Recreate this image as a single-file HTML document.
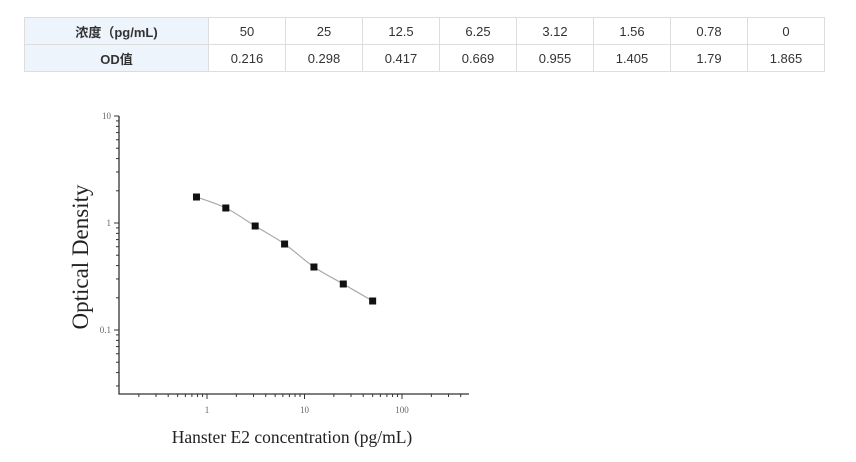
<!DOCTYPE html>
<html><head><meta charset="utf-8"><style>
body{margin:0;width:856px;height:462px;background:#fff;overflow:hidden;position:relative}
table{position:absolute;left:24px;top:17px;border-collapse:collapse;font-family:"Liberation Sans","Noto Sans CJK SC",sans-serif;font-size:13px;color:#333}
td{border:1px solid #ddd;height:26px;padding:0;text-align:center;width:76px}
td.h{width:183px;background:#eef4fb;font-weight:bold}
</style></head><body>
<table>
<tr><td class="h">浓度（pg/mL)</td><td>50</td><td>25</td><td>12.5</td><td>6.25</td><td>3.12</td><td>1.56</td><td>0.78</td><td>0</td></tr>
<tr><td class="h">OD值</td><td>0.216</td><td>0.298</td><td>0.417</td><td>0.669</td><td>0.955</td><td>1.405</td><td>1.79</td><td>1.865</td></tr>
</table>
<svg id="s" width="856" height="462" style="position:absolute;left:0;top:0" font-family="Liberation Serif,serif"></svg>
<script>
var s=document.getElementById('s'),h='';
function X(v){return 207+97.5*Math.log10(v)}
function Y(v){return 223-107*Math.log10(v)}
h+='<path d="M119 116V394H469" fill="none" stroke="#333" stroke-width="1.3"/>';
for(var d=-2;d<=1;d++)for(var k=1;k<10;k++){var v=k*Math.pow(10,d),y=Y(v);if(y<115||y>394)continue;h+='<line x1="'+(k==1?114:116)+'" x2="119" y1="'+y+'" y2="'+y+'" stroke="#333"/>';}
for(var d=-1;d<=2;d++)for(var k=1;k<10;k++){var v=k*Math.pow(10,d),x=X(v);if(x<120||x>469)continue;h+='<line y1="394" y2="'+(k==1?399:397)+'" x1="'+x+'" x2="'+x+'" stroke="#333"/>';}
[['10',116],['1',223],['0.1',330]].forEach(function(a){h+='<text x="111" y="'+(a[1]+3)+'" font-size="9" fill="#666" text-anchor="end">'+a[0]+'</text>'});
[['1',1],['10',10],['100',100]].forEach(function(a){h+='<text x="'+X(a[1])+'" y="413" font-size="9" fill="#666" text-anchor="middle">'+a[0]+'</text>'});
var c=[0.78,1.56,3.12,6.25,12.5,25,50];
var yp=[197,208,226,244,267,284,301];
var P=c.map(function(v,i){return [X(v),yp[i]]});
var p='M'+P[0][0]+' '+P[0][1];
for(var i=0;i<P.length-1;i++){var a=P[i-1]||P[i],b=P[i],e=P[i+1],f=P[i+2]||e;
p+='C'+(b[0]+(e[0]-a[0])/6)+' '+(b[1]+(e[1]-a[1])/6)+' '+(e[0]-(f[0]-b[0])/6)+' '+(e[1]-(f[1]-b[1])/6)+' '+e[0]+' '+e[1];}
h+='<path d="'+p+'" fill="none" stroke="#aaa" stroke-width="1.2"/>';
for(var i=0;i<7;i++)h+='<rect x="'+(P[i][0]-3.5)+'" y="'+(yp[i]-3.5)+'" width="7" height="7" fill="#111"/>';
h+='<text transform="translate(88,257) rotate(-90)" font-size="23" text-anchor="middle" fill="#222">Optical Density</text>';
h+='<text x="292" y="443" font-size="17.5" text-anchor="middle" fill="#222">Hanster E2 concentration (pg/mL)</text>';
s.innerHTML=h;
</script>
</body></html>
